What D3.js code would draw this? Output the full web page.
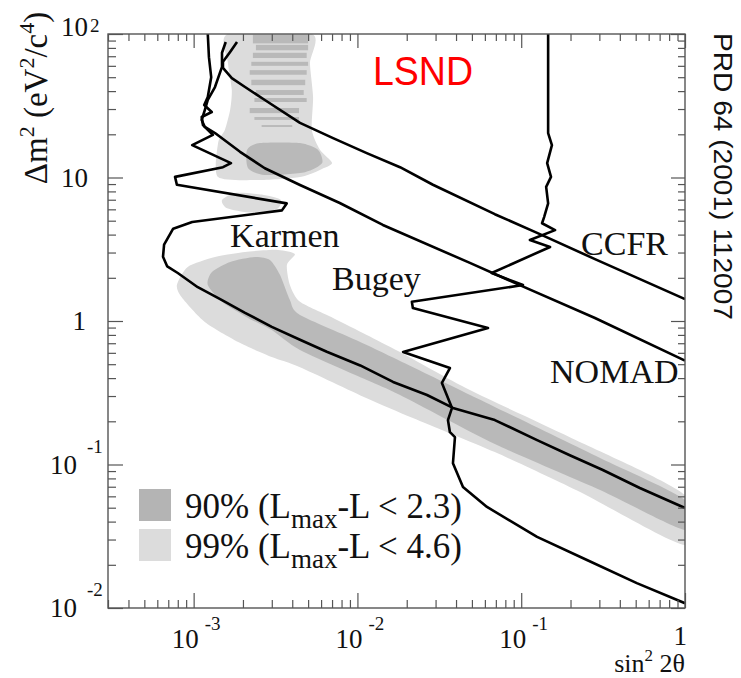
<!DOCTYPE html>
<html>
<head>
<meta charset="utf-8">
<script src="https://cdn.jsdelivr.net/npm/d3@7"></script>
<style>
body { margin: 0; background: #fff; }
svg text { font-family: "Liberation Serif", "Times New Roman", serif; fill: #111; }
</style>
</head>
<body>
<svg id="chart"></svg>
<script>
// exclusion limits, [sin^2 2theta, dm^2 (eV^2)]
const karmenLimit = [[1.22e-3,100],[1.24e-3,69],[1.28e-3,50],[1.22e-3,36.4],[1.16e-3,32],[1.29e-3,28.6],[1.12e-3,26.4],[1.14e-3,23.2],[1.31e-3,19.8],[9.8e-4,16.8],[1.69e-3,12.6],[1.51e-3,11.8],[7.7e-4,10.1],[7.9e-4,8.9],[3.7e-3,6.6],[3.46e-3,5.9],[9.8e-4,4.9],[7.5e-4,4.4],[6.6e-4,3.4],[6.5e-4,2.8],[6.9e-4,2.4],[8.0e-4,2.16],[1.06e-3,1.72],[1.49e-3,1.40],[2.06e-3,1.14],[3.0e-3,0.91],[4.46e-3,0.74],[6.5e-3,0.61],[1.04e-2,0.49],[1.65e-2,0.376],[2.66e-2,0.305],[3.83e-2,0.248],[6.9e-2,0.204],[0.125,0.148],[0.198,0.116],[0.315,0.0916],[0.53,0.0686],[1,0.0498]];
const ccfrLimit = [[1.84e-3,88],[1.67e-3,75],[1.51e-3,64],[1.51e-3,58],[1.71e-3,49.3],[2.06e-3,42.7],[2.72e-3,34.7],[4.46e-3,24],[7.1e-3,18.8],[1.14e-2,14.8],[1.82e-2,11.8],[2.89e-2,8.9],[6.9e-2,5.55],[0.125,4.11],[0.282,2.7],[1,1.42]];
const nomadLimit = [[1.57e-3,88],[1.49e-3,74],[1.49e-3,59],[1.35e-3,42.7],[1.22e-3,34.7],[1.17e-3,29.5],[1.12e-3,25.2],[1.17e-3,22.5],[1.35e-3,20.4],[1.92e-3,15.1],[2.72e-3,11.6],[4.46e-3,8.87],[7.8e-3,6.64],[1.43e-2,4.67],[4.86e-2,2.54],[9.8e-2,1.78],[0.282,1.05],[1,0.53]];
const bugeyLimit = [[0.146,100],[0.146,20.4],[0.154,16.8],[0.144,12.6],[0.152,10.1],[0.142,8.6],[0.146,6.6],[0.138,5.3],[0.134,4.8],[0.161,4.3],[0.113,3.67],[0.150,3.28],[0.066,2.16],[0.1025,1.78],[2.15e-2,1.36],[2.18e-2,1.23],[6.27e-2,0.893],[1.90e-2,0.608],[3.67e-2,0.470],[3.28e-2,0.370],[3.78e-2,0.248],[3.57e-2,0.204],[3.67e-2,0.168],[3.94e-2,0.155],[3.83e-2,0.102],[4.41e-2,0.0697],[6.18e-2,0.0506],[0.125,0.0313],[0.252,0.0216],[0.508,0.0149],[1,0.0108]];

// LSND allowed regions (outlines)
const lsnd99Lower = [[7.9e-4,1.78],[9.2e-4,2.38],[1.35e-3,2.79],[2.06e-3,3.03],[3.27e-3,3.13],[4.15e-3,2.93],[3.71e-3,2.46],[3.87e-3,1.78],[4.46e-3,1.36],[7.1e-3,1.05],[1.14e-2,0.80],[1.82e-2,0.608],[4.86e-2,0.330],[0.198,0.155],[1,0.0612],[1,0.0275],[0.229,0.0643],[6.9e-2,0.122],[2.18e-2,0.211],[1.14e-2,0.290],[4.46e-3,0.477],[3.0e-3,0.561],[1.87e-3,0.714],[1.17e-3,0.984],[8.5e-4,1.45]];
const lsnd90Lower = [[1.22e-3,1.78],[1.29e-3,2.19],[1.67e-3,2.58],[2.37e-3,2.79],[2.92e-3,2.66],[3.37e-3,2.09],[3.87e-3,1.40],[4.46e-3,1.10],[1.14e-2,0.680],[6.9e-2,0.252],[0.303,0.111],[1,0.0566],[1,0.035],[0.303,0.0664],[6.9e-2,0.139],[1.82e-2,0.305],[1.14e-2,0.388],[4.46e-3,0.628],[3.0e-3,0.865],[2.15e-3,1.05],[1.49e-3,1.36]];
const lsnd99Upper = [[1.62e-3,100],[1.62e-3,62.8],[1.71e-3,40.7],[1.67e-3,29.5],[1.55e-3,21.4],[1.41e-3,17.4],[1.41e-3,10.07],[2.54e-3,9.6],[4.46e-3,10.07],[5.9e-3,11.3],[7.0e-3,12.6],[5.9e-3,15.6],[5.27e-3,21.4],[5.36e-3,36.4],[5.13e-3,62.8],[5.27e-3,100]];
const lsnd99Blob = [[1.49e-3,6.97],[1.8e-3,7.8],[2.6e-3,7.6],[3.4e-3,7.0],[3.2e-3,6.0],[2.2e-3,5.7],[1.6e-3,6.1]];
const lsnd90Upper = [[2.12e-3,15.6],[2.54e-3,17.4],[4.46e-3,17.4],[5.74e-3,15.6],[6.09e-3,12.6],[4.79e-3,10.9],[2.72e-3,10.4],[2.15e-3,11.6]];
// [dm2 low, dm2 high, sin2 low, sin2 high]
const lsnd90Stripes = [[86,99,2.3e-3,5.0e-3],[77,84,2.4e-3,5.0e-3],[68,74,2.3e-3,4.9e-3],[60,64,2.25e-3,5.0e-3],[52,56,2.2e-3,4.9e-3],[44,48,2.25e-3,4.8e-3],[37.6,40.7,2.4e-3,4.7e-3],[33.6,35.8,2.35e-3,4.9e-3],[28.1,30.5,2.2e-3,4.4e-3],[25.2,26.4,2.35e-3,4.4e-3],[22.5,23.2,2.6e-3,4.0e-3]];

const xTickLabels = [{v: 1e-3, base: "10", exp: "-3"}, {v: 1e-2, base: "10", exp: "-2"}, {v: 1e-1, base: "10", exp: "-1"}, {v: 1, base: "1", exp: ""}];
const yTickLabels = [{v: 1e-2, base: "10", exp: "-2"}, {v: 1e-1, base: "10", exp: "-1"}, {v: 1, base: "1", exp: ""}, {v: 10, base: "10", exp: ""}, {v: 100, base: "10", exp: "2"}];
const legendItems = [{cl: "90%", cut: "2.3"}, {cl: "99%", cut: "4.6"}];

const LIGHT = "#dcdcdc", DARK = "#b9b9b9";

const svg = d3.select("#chart").attr("width", 741).attr("height", 678);
const x = d3.scaleLog().domain([3e-4, 1]).range([108, 685]);
const y = d3.scaleLog().domain([1e-2, 1e2]).range([608, 34]);

svg.append("clipPath").attr("id", "plotClip")
  .append("rect").attr("x", 108).attr("y", 34).attr("width", 577).attr("height", 574);

const plot = svg.append("g").attr("clip-path", "url(#plotClip)");
const line = d3.line().x(d => x(d[0])).y(d => y(d[1]));

// shaded regions
[[lsnd99Upper, LIGHT], [lsnd99Blob, LIGHT], [lsnd99Lower, LIGHT], [lsnd90Upper, DARK], [lsnd90Lower, DARK]]
  .forEach(([pts, c]) => plot.append("path").attr("d", line.curve(d3.curveCardinalClosed.tension(0.3))(pts)).attr("fill", c));
line.curve(d3.curveLinear);

plot.selectAll("rect.stripe").data(lsnd90Stripes).join("rect")
  .attr("class", "stripe")
  .attr("x", d => x(d[2])).attr("width", d => x(d[3]) - x(d[2]))
  .attr("y", d => y(d[1])).attr("height", d => y(d[0]) - y(d[1]))
  .attr("fill", DARK);

// limit curves
[karmenLimit, ccfrLimit, nomadLimit, bugeyLimit].forEach(pts => {
  plot.append("path").attr("d", line(pts))
    .attr("fill", "none").attr("stroke", "#000")
    .attr("stroke-width", 2.6).attr("stroke-linejoin", "round");
});

// frame + ticks
function minors(lo, hi) {
  const out = [];
  for (let e = lo; e < hi; e++) for (let m = 2; m <= 9; m++) out.push(m * Math.pow(10, e));
  return out;
}
const xMinor = minors(-4, 0).filter(v => v >= 3e-4 && v <= 1);
const yMinor = minors(-2, 2);
const xMajor = [1e-3, 1e-2, 1e-1, 1];
const yMajor = [1e-2, 1e-1, 1, 10, 100];

function axis(gen, scale, pos, vals, size) {
  const g = svg.append("g").attr("transform", pos)
    .call(gen(scale).tickValues(vals).tickSize(size).tickFormat(""));
  g.select(".domain").remove();
  g.selectAll("line").attr("stroke", "#555").attr("stroke-width", 1.2);
}
axis(d3.axisTop, x, "translate(0,608)", xMajor, 15);
axis(d3.axisTop, x, "translate(0,608)", xMinor, 8);
axis(d3.axisBottom, x, "translate(0,34)", xMajor, 14);
axis(d3.axisBottom, x, "translate(0,34)", xMinor, 7);
axis(d3.axisRight, y, "translate(108,0)", yMajor, 15);
axis(d3.axisRight, y, "translate(108,0)", yMinor, 8);
axis(d3.axisLeft, y, "translate(685,0)", yMajor, 14);
axis(d3.axisLeft, y, "translate(685,0)", yMinor, 7);

svg.append("rect").attr("x", 108).attr("y", 34).attr("width", 577).attr("height", 574)
  .attr("fill", "none").attr("stroke", "#555").attr("stroke-width", 1.4);

// tick labels
xTickLabels.forEach(t => {
  const tx = x(t.v);
  svg.append("text").attr("x", t.exp ? tx + 5 : tx + 2).attr("y", t.exp ? 648 : 645)
    .attr("text-anchor", "end").attr("font-size", 27).text(t.base);
  if (t.exp) svg.append("text").attr("x", tx + 11).attr("y", 630)
    .attr("font-size", 19).text(t.exp);
});
yTickLabels.forEach(t => {
  const ty = y(t.v);
  const neg = t.exp.startsWith("-");
  const shift = t.v === 100 ? -7 : 0;
  svg.append("text").attr("x", neg ? 77 : (t.base === "1" ? 86 : 88)).attr("y", ty + 9 + shift)
    .attr("text-anchor", "end").attr("font-size", 27).text(t.base);
  if (t.exp) svg.append("text").attr("x", neg ? 87 : 90).attr("y", neg ? ty - 12 : ty + 5 + shift)
    .attr("font-size", 19).text(t.exp);
});

// axis titles
const yt = svg.append("text").attr("transform", "translate(47,98) rotate(-90)")
  .attr("text-anchor", "middle").attr("font-size", 33);
function sup(sel, s) {
  sel.append("tspan").attr("dy", -13).attr("font-size", 22).text(s);
  return sel.append("tspan").attr("dy", 13);
}
yt.append("tspan").text("\u0394m");
sup(yt, "2").text(" (eV");
sup(yt, "2").text("/c");
sup(yt, "4").text(")");

const xt = svg.append("text").attr("x", 685).attr("y", 672).attr("text-anchor", "end").attr("font-size", 26);
xt.append("tspan").text("sin");
xt.append("tspan").attr("dy", -11).attr("font-size", 17).text("2");
xt.append("tspan").attr("dy", 11).text(" 2\u03b8");

// curve names
[["Karmen", 1.67e-3, 3.28], ["Bugey", 7.0e-3, 1.64], ["CCFR", 0.232, 2.88], ["NOMAD", 0.150, 0.37]]
  .forEach(([name, sx, dm]) => svg.append("text").attr("x", x(sx)).attr("y", y(dm))
    .attr("font-size", 34).text(name));

// legend
legendItems.forEach((d, i) => {
  const ly = 489 + i * 40;
  svg.append("rect").attr("x", 139).attr("y", ly).attr("width", 32).attr("height", 32)
    .attr("fill", i === 0 ? "#b4b4b4" : LIGHT);
  const t = svg.append("text").attr("x", 185).attr("y", ly + 29).attr("font-size", 35);
  t.append("tspan").text(`${d.cl} (L`);
  t.append("tspan").attr("dy", 10).attr("font-size", 27).text("max");
  t.append("tspan").attr("dy", -10).text(`-L < ${d.cut})`);
});

// annotations
svg.append("text").attr("x", 373).attr("y", 85)
  .style("font-family", "'Liberation Sans', Arial, sans-serif")
  .attr("font-size", 40).attr("textLength", 100).attr("lengthAdjust", "spacingAndGlyphs")
  .style("fill", "#ff0000").text("LSND");

svg.append("text").attr("transform", "translate(714,33) rotate(90)")
  .style("font-family", "'Liberation Sans', Arial, sans-serif")
  .attr("font-size", 25).attr("textLength", 287).attr("lengthAdjust", "spacingAndGlyphs")
  .text("PRD 64 (2001) 112007");
</script>
</body>
</html>
